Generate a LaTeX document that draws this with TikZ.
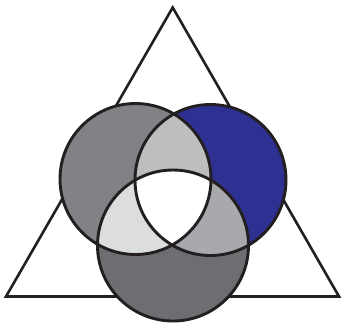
\documentclass[tikz,border=0pt]{standalone}
\definecolor{lgray}{HTML}{808285}
\definecolor{blu}{HTML}{2E3192}
\definecolor{bgray}{HTML}{6D6E71}
\definecolor{lrcol}{HTML}{BCBEC0}
\definecolor{lbcol}{HTML}{DCDDDE}
\definecolor{rbcol}{HTML}{A7A9AC}
\definecolor{ink}{HTML}{231F20}
\begin{document}
\begin{tikzpicture}[x=1pt,y=-1pt,
  outline/.style={draw=ink, line width=2.9pt},
  rr/.style={radius=75.5pt}]
\useasboundingbox (0,0) rectangle (342,325);
\coordinate (T1) at (172.7,7.5);
\coordinate (T2) at (339,296.5);
\coordinate (T3) at (6,296.5);
\coordinate (L) at (135.5,179);
\coordinate (R) at (210.5,180);
\coordinate (B) at (173,245.5);
\draw[outline, line width=2.6pt, line join=miter] (T1) -- (T2) -- (T3) -- cycle;
\fill[lgray] (L) circle[rr];
\fill[blu] (R) circle[rr];
\fill[bgray] (B) circle[rr];
\begin{scope}\clip (L) circle[rr]; \fill[lrcol] (R) circle[rr]; \end{scope}
\begin{scope}\clip (L) circle[rr]; \fill[lbcol] (B) circle[rr]; \end{scope}
\begin{scope}\clip (R) circle[rr]; \fill[rbcol] (B) circle[rr]; \end{scope}
\begin{scope}\clip (L) circle[rr]; \clip (R) circle[rr]; \fill[white] (B) circle[rr]; \end{scope}
\draw[outline] (L) circle[rr];
\draw[outline] (R) circle[rr];
\draw[outline] (B) circle[rr];
\end{tikzpicture}
\end{document}
